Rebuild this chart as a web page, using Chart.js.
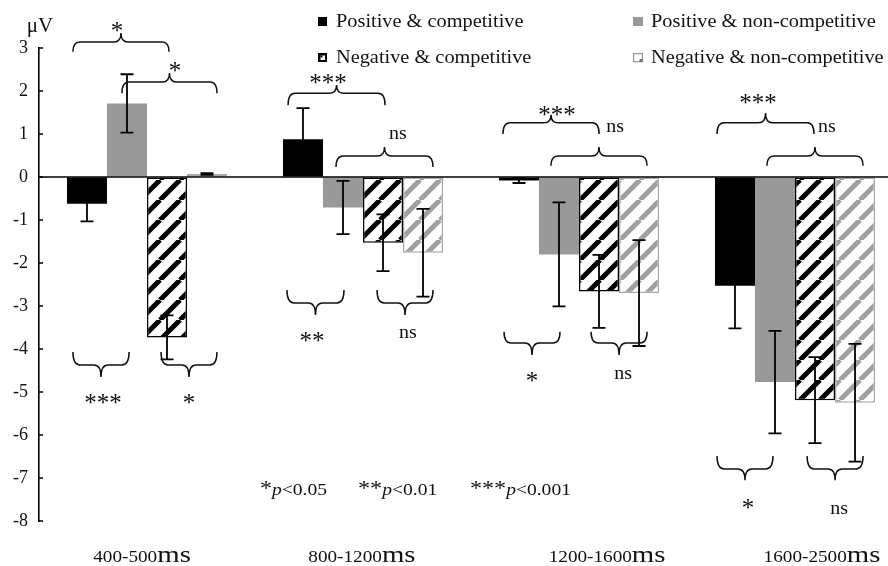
<!DOCTYPE html>
<html>
<head>
<meta charset="utf-8">
<script src="https://cdn.jsdelivr.net/npm/chart.js@4/dist/chart.umd.min.js"></script>
<style>
  html, body { margin: 0; padding: 0; background: #fff; overflow: hidden; width: 888px; height: 566px; }
  #wrap { width: 903px; height: 566px; }
</style>
</head>
<body>
<div id="wrap"><canvas id="chart" width="903" height="566"></canvas></div>
<script>
// ---- data -------------------------------------------------------------
const categories = ['400-500', '800-1200', '1200-1600', '1600-2500'];
const categoryUnit = 'ms';
const seriesNames = ['Positive & competitive', 'Positive & non-competitive',
                     'Negative & competitive', 'Negative & non-competitive'];

// mean amplitude (µV) per time window
const posComp    = [-0.62,  0.88, -0.08, -2.53];
const posNonComp = [ 1.71, -0.71, -1.80, -4.77];
const negComp    = [-3.73, -1.53, -2.66, -5.19];
const negNonComp = [ 0.07, -1.76, -2.70, -5.25];

// standard errors (µV)
const posCompErr    = [0.41, 0.72, 0.06, 0.99];
const posNonCompErr = [0.68, 0.62, 1.21, 1.19];
const negCompErr    = [0.51, 0.66, 0.85, 1.00];
const negNonCompErr = [0.02, 1.02, 1.23, 1.37];

const yMin = -8, yMax = 3;

// significance braces: category, horizontal span (fraction of a category
// around its centre) and the heights (µV) of the brace ends, bar and tip
const braces = [
  { cat: 0, x1: -0.343, x2:  0.102, yEnd:  2.91, yLine:  3.14, yTip:  3.35 },
  { cat: 0, x1: -0.116, x2:  0.324, yEnd:  1.95, yLine:  2.21, yTip:  2.42 },
  { cat: 0, x1: -0.343, x2: -0.083, yEnd: -4.07, yLine: -4.37, yTip: -4.65 },
  { cat: 0, x1:  0.065, x2:  0.324, yEnd: -4.07, yLine: -4.37, yTip: -4.65 },
  { cat: 1, x1: -0.347, x2:  0.102, yEnd:  1.67, yLine:  1.95, yTip:  2.14 },
  { cat: 1, x1: -0.125, x2:  0.324, yEnd:  0.23, yLine:  0.49, yTip:  0.70 },
  { cat: 1, x1: -0.352, x2: -0.088, yEnd: -2.63, yLine: -2.93, yTip: -3.21 },
  { cat: 1, x1:  0.065, x2:  0.324, yEnd: -2.63, yLine: -2.93, yTip: -3.21 },
  { cat: 2, x1: -0.352, x2:  0.093, yEnd:  1.00, yLine:  1.26, yTip:  1.45 },
  { cat: 2, x1: -0.130, x2:  0.315, yEnd:  0.26, yLine:  0.49, yTip:  0.70 },
  { cat: 2, x1: -0.347, x2: -0.088, yEnd: -3.60, yLine: -3.86, yTip: -4.14 },
  { cat: 2, x1:  0.056, x2:  0.315, yEnd: -3.60, yLine: -3.86, yTip: -4.14 },
  { cat: 3, x1: -0.361, x2:  0.088, yEnd:  1.00, yLine:  1.26, yTip:  1.49 },
  { cat: 3, x1: -0.130, x2:  0.315, yEnd:  0.26, yLine:  0.49, yTip:  0.70 },
  { cat: 3, x1: -0.361, x2: -0.102, yEnd: -6.49, yLine: -6.79, yTip: -7.05 },
  { cat: 3, x1:  0.056, x2:  0.315, yEnd: -6.49, yLine: -6.79, yTip: -7.05 }
];

// significance marks next to the braces (visual centre, µV)
const marks = [
  { cat: 0, dx: -0.139, y:  3.47, text: '*' },
  { cat: 0, dx:  0.130, y:  2.53, text: '*' },
  { cat: 0, dx: -0.204, y: -5.19, text: '***' },
  { cat: 0, dx:  0.194, y: -5.19, text: '*' },
  { cat: 1, dx: -0.162, y:  2.26, text: '***' },
  { cat: 1, dx:  0.162, y:  0.98, text: 'ns' },
  { cat: 1, dx: -0.236, y: -3.74, text: '**' },
  { cat: 1, dx:  0.208, y: -3.63, text: 'ns' },
  { cat: 2, dx: -0.102, y:  1.51, text: '***' },
  { cat: 2, dx:  0.167, y:  1.16, text: 'ns' },
  { cat: 2, dx: -0.218, y: -4.67, text: '*' },
  { cat: 2, dx:  0.204, y: -4.60, text: 'ns' },
  { cat: 3, dx: -0.171, y:  1.79, text: '***' },
  { cat: 3, dx:  0.148, y:  1.16, text: 'ns' },
  { cat: 3, dx: -0.218, y: -7.63, text: '*' },
  { cat: 3, dx:  0.204, y: -7.74, text: 'ns' }
];

// p-value key
const pKeyStars  = ['*', '**', '***'];
const pKeyLevels = ['<0.05', '<0.01', '<0.001'];

// x-label shift within its category (fraction of a category)
const xLabelShift = [-0.023, -0.005, 0.130, 0.125];

// ---- drawing helpers -------------------------------------------------
const SERIF = '"Liberation Serif", "Times New Roman", serif';
const INK = '#111';

function makeHatch(color, lineWidth) {
  const p = 20;
  const c = document.createElement('canvas');
  c.width = p; c.height = p;
  const g = c.getContext('2d');
  g.fillStyle = '#fff';
  g.fillRect(0, 0, p, p);
  g.strokeStyle = color;
  g.lineWidth = lineWidth;
  g.beginPath();
  for (let k = -1; k <= 1; k++) {
    g.moveTo(k * p, p);
    g.lineTo(k * p + p, 0);
  }
  g.stroke();
  return g.createPattern(c, 'repeat');
}

function textRuns(ctx, runs, x, y, sx, align) {
  ctx.save();
  let total = 0;
  runs.forEach(r => { ctx.font = r.font; total += ctx.measureText(r.text).width; });
  total *= sx;
  let left = align === 'center' ? x - total / 2 : (align === 'right' ? x - total : x);
  ctx.translate(left, y);
  ctx.scale(sx, 1);
  ctx.textAlign = 'left';
  ctx.textBaseline = 'alphabetic';
  let cx = 0;
  runs.forEach(r => {
    ctx.font = r.font;
    ctx.fillText(r.text, cx, 0);
    cx += ctx.measureText(r.text).width;
  });
  ctx.restore();
  return total;
}

function drawBrace(ctx, x1, x2, yEnd, yLine, yTip) {
  const mid = (x1 + x2) / 2;
  const r = Math.min(7, (x2 - x1) / 7);
  ctx.beginPath();
  ctx.moveTo(x1, yEnd);
  ctx.quadraticCurveTo(x1, yLine, x1 + r, yLine);
  ctx.lineTo(mid - r, yLine);
  ctx.quadraticCurveTo(mid, yLine, mid, yTip);
  ctx.quadraticCurveTo(mid, yLine, mid + r, yLine);
  ctx.lineTo(x2 - r, yLine);
  ctx.quadraticCurveTo(x2, yLine, x2, yEnd);
  ctx.stroke();
}

const errors = [posCompErr, posNonCompErr, negCompErr, negNonCompErr];

const hatchBlack = makeHatch('#000', 5);
const hatchGrey = makeHatch('#a0a0a0', 5);

// error bars, zero line, y ticks, braces, marks and labels
const decorations = {
  id: 'decorations',
  afterDatasetsDraw(chart) {
    const ctx = chart.ctx;
    const xs = chart.scales.x, ys = chart.scales.y;
    const area = chart.chartArea;
    const catW = xs.width / categories.length;
    const cx = (cat, dx) => xs.getPixelForValue(cat) + dx * catW;

    ctx.save();
    // zero line
    ctx.strokeStyle = '#000';
    ctx.lineWidth = 1.6;
    const y0 = ys.getPixelForValue(0);
    ctx.beginPath();
    ctx.moveTo(area.left, y0);
    ctx.lineTo(area.right, y0);
    ctx.stroke();

    // inward tick marks
    ctx.lineWidth = 1.5;
    ys.ticks.forEach(t => {
      const y = ys.getPixelForValue(t.value);
      ctx.beginPath();
      ctx.moveTo(area.left, y);
      ctx.lineTo(area.left + 4, y);
      ctx.stroke();
    });

    // error bars
    ctx.strokeStyle = '#000';
    ctx.lineWidth = 1.8;
    chart.data.datasets.forEach((ds, i) => {
      const meta = chart.getDatasetMeta(i);
      meta.data.forEach((bar, j) => {
        const v = ds.data[j], e = errors[i][j];
        const yt = ys.getPixelForValue(v + e), yb = ys.getPixelForValue(v - e);
        const half = 6.5;
        ctx.beginPath();
        ctx.moveTo(bar.x, yt); ctx.lineTo(bar.x, yb);
        ctx.moveTo(bar.x - half, yt); ctx.lineTo(bar.x + half, yt);
        ctx.moveTo(bar.x - half, yb); ctx.lineTo(bar.x + half, yb);
        ctx.stroke();
      });
    });

    // braces
    ctx.lineWidth = 1.5;
    ctx.strokeStyle = '#111';
    braces.forEach(b => {
      drawBrace(ctx, cx(b.cat, b.x1), cx(b.cat, b.x2),
        ys.getPixelForValue(b.yEnd), ys.getPixelForValue(b.yLine), ys.getPixelForValue(b.yTip));
    });

    // significance marks
    ctx.fillStyle = INK;
    marks.forEach(m => {
      const x = cx(m.cat, m.dx);
      const yc = ys.getPixelForValue(m.y);
      if (m.text === 'ns') {
        textRuns(ctx, [{ text: m.text, font: '19px ' + SERIF }], x, yc + 4.5, 1.05, 'center');
      } else {
        textRuns(ctx, [{ text: m.text, font: '25px ' + SERIF }], x, yc + 11, 1.0, 'center');
      }
    });

    // p-value key
    const keyX = [-0.477, -0.023, 0.495];
    const keyY = ys.getPixelForValue(-7.4);
    pKeyStars.forEach((s, k) => {
      textRuns(ctx, [
        { text: s, font: '21px ' + SERIF },
        { text: 'p', font: 'italic 17px ' + SERIF },
        { text: pKeyLevels[k], font: '17px ' + SERIF }
      ], cx(1, keyX[k]), keyY, 1.15, 'left');
    });

    // category labels
    categories.forEach((c, i) => {
      textRuns(ctx, [
        { text: c, font: '16px ' + SERIF },
        { text: categoryUnit, font: '24px ' + SERIF }
      ], cx(i, xLabelShift[i]), area.bottom + 41, 1.2, 'center');
    });

    // unit label above the axis
    ctx.font = '21px ' + SERIF;
    ctx.textAlign = 'center';
    ctx.textBaseline = 'alphabetic';
    ctx.fillText('\u03bcV', area.left + 1, ys.getPixelForValue(yMax) - 16);

    // legend (two columns, two rows)
    const cols = [318, 633], rows = [27, 63];
    chart.data.datasets.forEach((ds, i) => {
      const col = i % 2, row = Math.floor(i / 2);
      const ix = cols[col], iy = rows[row] - 10;
      if (i === 0) {
        ctx.fillStyle = '#000'; ctx.fillRect(ix, iy, 9, 9);
      } else if (i === 1) {
        ctx.fillStyle = '#999'; ctx.fillRect(ix, iy, 10, 9);
      } else if (i === 2) {
        ctx.fillStyle = '#000'; ctx.fillRect(ix, iy, 9, 9);
        ctx.fillStyle = '#fff'; ctx.fillRect(ix + 2.5, iy + 2.5, 4.5, 4.5);
        ctx.fillStyle = '#000'; ctx.fillRect(ix + 2.5, iy + 2.5, 2, 2);
      } else {
        ctx.strokeStyle = '#999'; ctx.lineWidth = 1.3;
        ctx.strokeRect(ix + 0.6, iy + 0.6, 8.8, 8);
        ctx.fillStyle = '#777'; ctx.fillRect(ix + 6.5, iy + 6, 3, 3);
      }
      ctx.fillStyle = INK;
      textRuns(ctx, [{ text: ds.label, font: '19px ' + SERIF }], ix + 18, rows[row], 1.07, 'left');
    });
    ctx.restore();
  }
};

new Chart(document.getElementById('chart'), {
  type: 'bar',
  data: {
    labels: categories,
    datasets: [
      { label: seriesNames[0], data: posComp,    backgroundColor: '#000', borderWidth: 0 },
      { label: seriesNames[1], data: posNonComp, backgroundColor: '#999', borderWidth: 0 },
      { label: seriesNames[2], data: negComp,    backgroundColor: hatchBlack, borderColor: '#000', borderWidth: 1.5, borderSkipped: false },
      { label: seriesNames[3], data: negNonComp, backgroundColor: hatchGrey,  borderColor: '#a8a8a8', borderWidth: 1.5, borderSkipped: false }
    ]
  },
  options: {
    responsive: false,
    animation: false,
    devicePixelRatio: 1,
    datasets: { bar: { categoryPercentage: 0.741, barPercentage: 1.0 } },
    layout: { padding: { top: 48, bottom: 45, left: 0, right: 0 } },
    plugins: { legend: { display: false }, tooltip: { enabled: false }, title: { display: false } },
    scales: {
      x: { display: false },
      y: {
        min: yMin, max: yMax,
        afterFit: s => { s.width = 39; },
        ticks: { stepSize: 1, color: INK, padding: 11, font: { family: SERIF, size: 18 } },
        grid: { drawOnChartArea: false, drawTicks: false },
        border: { color: '#000', width: 1.6 }
      }
    }
  },
  plugins: [decorations]
});
</script>
</body>
</html>
